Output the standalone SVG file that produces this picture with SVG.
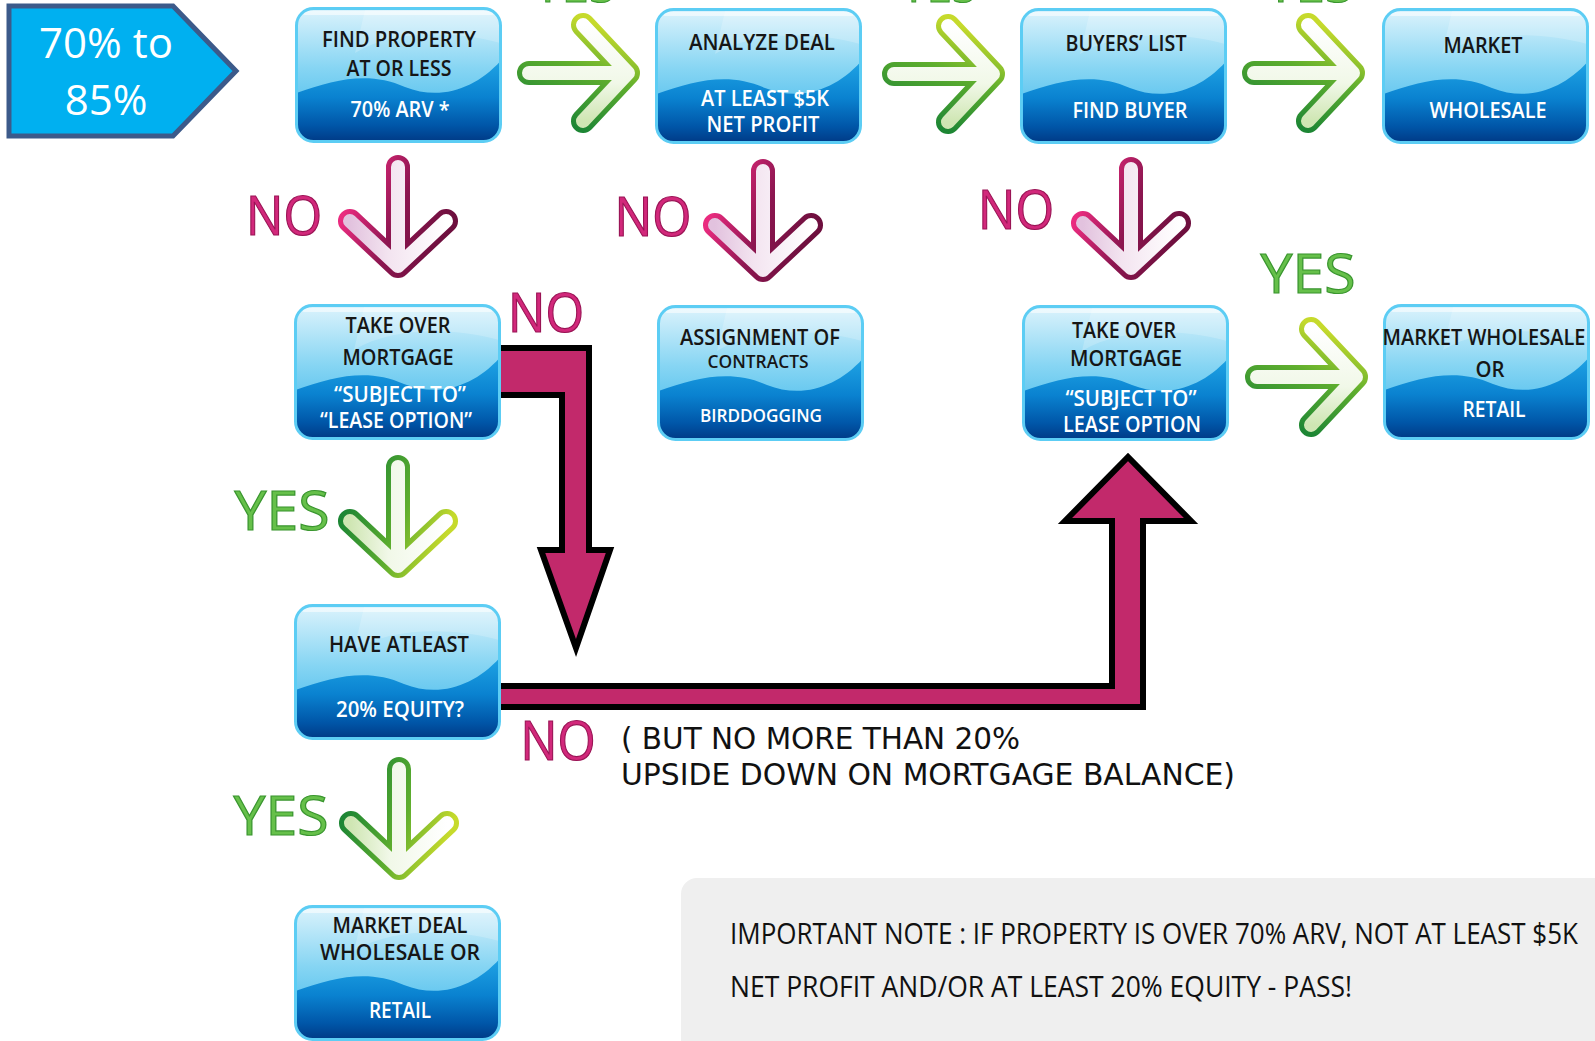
<svg xmlns="http://www.w3.org/2000/svg" xmlns:xlink="http://www.w3.org/1999/xlink" width="1595" height="1041" viewBox="0 0 1595 1041">
<style>
.bt{font-family:"Open Sans","Liberation Sans",sans-serif;font-size:21px;font-weight:600;text-anchor:middle}
.dk{fill:#161616}
.wt{fill:#ffffff}
.sm{font-size:18px}
.no{font-family:"Open Sans","Liberation Sans",sans-serif;font-size:54px;fill:#d2287b;stroke:#9a1455;stroke-width:1.2px;text-anchor:middle}
.yes{font-family:"Open Sans","Liberation Sans",sans-serif;font-size:54px;fill:#66c04a;stroke:#3a962f;stroke-width:1.2px;text-anchor:middle}
.hand{font-family:"DejaVu Sans","Liberation Sans",sans-serif;font-size:31px;fill:#111}
.note{font-family:"Open Sans","Liberation Sans",sans-serif;font-size:29px;fill:#111}
.conn{fill:#c2296b;stroke:#000;stroke-width:6;stroke-linejoin:miter}
</style>
<defs>
<linearGradient id="gTop" x1="0" y1="0" x2="0" y2="1">
<stop offset="0" stop-color="#dcf3fc"/><stop offset="0.45" stop-color="#86d5f3"/><stop offset="1" stop-color="#34b2ea"/>
</linearGradient>
<linearGradient id="gBot" x1="0" y1="0" x2="0" y2="1">
<stop offset="0" stop-color="#1fa3e4"/><stop offset="0.45" stop-color="#0a82d0"/><stop offset="0.8" stop-color="#0056a8"/><stop offset="1" stop-color="#003a86"/>
</linearGradient>
<linearGradient id="gOutG" x1="0.7" y1="0" x2="0.3" y2="1">
<stop offset="0" stop-color="#c6da2c"/><stop offset="0.45" stop-color="#5fae2e"/><stop offset="1" stop-color="#1d8634"/>
</linearGradient>
<linearGradient id="gInG" x1="0" y1="0" x2="0" y2="1">
<stop offset="0" stop-color="#ffffff"/><stop offset="0.6" stop-color="#f1f8e8"/><stop offset="1" stop-color="#cfe6b3"/>
</linearGradient>
<linearGradient id="gOutP" x1="0.7" y1="0" x2="0.3" y2="1">
<stop offset="0" stop-color="#6e0f3e"/><stop offset="0.5" stop-color="#8c1650"/><stop offset="1" stop-color="#ea2b7f"/>
</linearGradient>
<linearGradient id="gInP" x1="0" y1="0" x2="0" y2="1">
<stop offset="0" stop-color="#ffffff"/><stop offset="0.6" stop-color="#f3e4f0"/><stop offset="1" stop-color="#e2c2de"/>
</linearGradient>
<g id="box">
<rect x="1.5" y="1.5" width="204" height="133" rx="17" fill="url(#gTop)"/>
<path d="M1.5,86 C40,72 75,64 110,80 C145,94 180,82 205.5,54 L205.5,117.5 Q205.5,134.5 188.5,134.5 L18.5,134.5 Q1.5,134.5 1.5,117.5 Z" fill="url(#gBot)"/>
<path d="M60,46 C100,22 160,24 205,36 L205,20 Q205,3 188,3 L70,3 Z" fill="#ffffff" opacity="0.2"/>
<rect x="8" y="4" width="191" height="4" rx="2" fill="#ffffff" opacity="0.55"/>
<rect x="1.5" y="1.5" width="204" height="133" rx="17" fill="none" stroke="#5ccdf4" stroke-width="3"/>
</g>
<g id="arrG">
<path d="M-99,0 L0,0 M-45,-48 L0,0 L-45,48" fill="none" stroke="url(#gOutG)" stroke-width="24" stroke-linecap="round" stroke-linejoin="round"/>
<path d="M-99,0 L0,0 M-45,-48 L0,0 L-45,48" fill="none" stroke="url(#gInG)" stroke-width="14" stroke-linecap="round" stroke-linejoin="round"/>
</g>
<g id="arrP">
<path d="M-99,0 L0,0 M-45,-48 L0,0 L-45,48" fill="none" stroke="url(#gOutP)" stroke-width="24" stroke-linecap="round" stroke-linejoin="round"/>
<path d="M-99,0 L0,0 M-45,-48 L0,0 L-45,48" fill="none" stroke="url(#gInP)" stroke-width="14" stroke-linecap="round" stroke-linejoin="round"/>
</g>
</defs>
<rect width="1595" height="1041" fill="#ffffff"/>

<g id="note">
<rect x="681" y="878" width="960" height="220" rx="16" fill="#efefef"/>
<text class="note" x="730" y="944" textLength="848" lengthAdjust="spacingAndGlyphs">IMPORTANT NOTE : IF PROPERTY IS OVER 70% ARV, NOT AT LEAST $5K</text>
<text class="note" x="730" y="997" textLength="622" lengthAdjust="spacingAndGlyphs">NET PROFIT AND/OR AT LEAST 20% EQUITY - PASS!</text>
</g>

<g id="connectors">
<path class="conn" d="M495,348 L589,348 L589,550 L610,550 L576,648 L541,550 L562,550 L562,395 L495,395 Z"/>
<path class="conn" d="M495,686 L1112,686 L1112,521 L1065,521 L1128,457 L1191,521 L1143,521 L1143,707 L495,707 Z"/>
<use href="#arrG" transform="translate(628,73)"/>
<use href="#arrG" transform="translate(993,74)"/>
<use href="#arrG" transform="translate(1353,73)"/>
<use href="#arrG" transform="translate(1356,377)"/>
<use href="#arrG" transform="translate(398,566) rotate(90)"/>
<use href="#arrG" transform="translate(399,868) rotate(90)"/>
<use href="#arrP" transform="translate(398,266) rotate(90)"/>
<use href="#arrP" transform="translate(763,270) rotate(90)"/>
<use href="#arrP" transform="translate(1131,268) rotate(90)"/>
</g>

<g id="labels">
<text class="yes" x="575" y="2" textLength="82" lengthAdjust="spacingAndGlyphs">YES</text>
<text class="yes" x="939" y="2" textLength="76" lengthAdjust="spacingAndGlyphs">YES</text>
<text class="yes" x="1310" y="2" textLength="88" lengthAdjust="spacingAndGlyphs">YES</text>
<text class="no" x="284" y="235" textLength="76" lengthAdjust="spacingAndGlyphs">NO</text>
<text class="no" x="653" y="236" textLength="77" lengthAdjust="spacingAndGlyphs">NO</text>
<text class="no" x="1016" y="229" textLength="76" lengthAdjust="spacingAndGlyphs">NO</text>
<text class="no" x="546" y="332" textLength="76" lengthAdjust="spacingAndGlyphs">NO</text>
<text class="no" x="558" y="760" textLength="75" lengthAdjust="spacingAndGlyphs">NO</text>
<text class="yes" x="1308" y="293" textLength="95" lengthAdjust="spacingAndGlyphs">YES</text>
<text class="yes" x="282" y="530" textLength="95" lengthAdjust="spacingAndGlyphs">YES</text>
<text class="yes" x="281" y="835" textLength="95" lengthAdjust="spacingAndGlyphs">YES</text>
<text class="hand" x="621" y="749" textLength="399" lengthAdjust="spacingAndGlyphs">( BUT NO MORE THAN 20%</text>
<text class="hand" x="621" y="785" textLength="614" lengthAdjust="spacingAndGlyphs">UPSIDE DOWN ON MORTGAGE BALANCE)</text>
</g>

<g id="badge">
<polygon points="9,6 173,6 236,71 173,136 9,136" fill="#00b0f0" stroke="#3c5a8a" stroke-width="5" stroke-linejoin="miter"/>
<text x="106" y="58" font-family="Open Sans, Liberation Sans, sans-serif" font-size="42" fill="#ffffff" text-anchor="middle">70% to</text>
<text x="106" y="115" font-family="Open Sans, Liberation Sans, sans-serif" font-size="42" fill="#ffffff" text-anchor="middle">85%</text>
</g>

<g id="n-find">
<use href="#box" x="295" y="7"/>
<text class="bt dk" x="399" y="47" textLength="154" lengthAdjust="spacingAndGlyphs">FIND PROPERTY</text>
<text class="bt dk" x="399" y="76" textLength="105" lengthAdjust="spacingAndGlyphs">AT OR LESS</text>
<text class="bt wt" x="400" y="117" textLength="99" lengthAdjust="spacingAndGlyphs">70% ARV *</text>
</g>
<g id="n-analyze">
<use href="#box" x="655" y="8"/>
<text class="bt dk" x="762" y="50" textLength="146" lengthAdjust="spacingAndGlyphs">ANALYZE DEAL</text>
<text class="bt wt" x="765" y="106" textLength="128" lengthAdjust="spacingAndGlyphs" font-size="20">AT LEAST $5K</text>
<text class="bt wt" x="763" y="132" textLength="113" lengthAdjust="spacingAndGlyphs" font-size="20">NET PROFIT</text>
</g>
<g id="n-buyers">
<use href="#box" x="1020" y="8"/>
<text class="bt dk" x="1126" y="51" textLength="121" lengthAdjust="spacingAndGlyphs">BUYERS’ LIST</text>
<text class="bt wt" x="1130" y="118" textLength="115" lengthAdjust="spacingAndGlyphs">FIND BUYER</text>
</g>
<g id="n-market">
<use href="#box" x="1382" y="8"/>
<text class="bt dk" x="1483" y="53" textLength="79" lengthAdjust="spacingAndGlyphs">MARKET</text>
<text class="bt wt" x="1488" y="118" textLength="117" lengthAdjust="spacingAndGlyphs">WHOLESALE</text>
</g>
<g id="n-takeover1">
<use href="#box" x="294" y="304"/>
<text class="bt dk" x="398" y="333" textLength="105" lengthAdjust="spacingAndGlyphs">TAKE OVER</text>
<text class="bt dk" x="398" y="365" textLength="111" lengthAdjust="spacingAndGlyphs">MORTGAGE</text>
<text class="bt wt" x="400" y="402" textLength="132" lengthAdjust="spacingAndGlyphs" font-size="19">“SUBJECT TO”</text>
<text class="bt wt" x="396" y="428" textLength="152" lengthAdjust="spacingAndGlyphs" font-size="19">“LEASE OPTION”</text>
</g>
<g id="n-assign">
<use href="#box" x="657" y="305"/>
<text class="bt dk" x="760" y="345" textLength="160" lengthAdjust="spacingAndGlyphs">ASSIGNMENT OF</text>
<text class="bt dk sm" x="758" y="368" textLength="101" lengthAdjust="spacingAndGlyphs">CONTRACTS</text>
<text class="bt wt sm" x="761" y="422" textLength="122" lengthAdjust="spacingAndGlyphs">BIRDDOGGING</text>
</g>
<g id="n-takeover2">
<use href="#box" x="1022" y="305"/>
<text class="bt dk" x="1124" y="338" textLength="104" lengthAdjust="spacingAndGlyphs">TAKE OVER</text>
<text class="bt dk" x="1126" y="366" textLength="112" lengthAdjust="spacingAndGlyphs">MORTGAGE</text>
<text class="bt wt" x="1131" y="406" textLength="131" lengthAdjust="spacingAndGlyphs" font-size="19">“SUBJECT TO”</text>
<text class="bt wt" x="1132" y="432" textLength="138" lengthAdjust="spacingAndGlyphs" font-size="19">LEASE OPTION</text>
</g>
<g id="n-market2">
<use href="#box" x="1383" y="304"/>
<text class="bt dk" x="1484" y="345" textLength="203" lengthAdjust="spacingAndGlyphs">MARKET WHOLESALE</text>
<text class="bt dk" x="1490" y="377" textLength="29" lengthAdjust="spacingAndGlyphs">OR</text>
<text class="bt wt" x="1494" y="417" textLength="63" lengthAdjust="spacingAndGlyphs">RETAIL</text>
</g>
<g id="n-equity">
<use href="#box" x="294" y="604"/>
<text class="bt dk" x="399" y="652" textLength="140" lengthAdjust="spacingAndGlyphs">HAVE ATLEAST</text>
<text class="bt wt" x="400" y="717" textLength="128" lengthAdjust="spacingAndGlyphs">20% EQUITY?</text>
</g>
<g id="n-marketdeal">
<use href="#box" x="294" y="905"/>
<text class="bt dk" x="400" y="933" textLength="135" lengthAdjust="spacingAndGlyphs">MARKET DEAL</text>
<text class="bt dk" x="400" y="960" textLength="160" lengthAdjust="spacingAndGlyphs">WHOLESALE  OR</text>
<text class="bt wt" x="400" y="1018" textLength="62" lengthAdjust="spacingAndGlyphs">RETAIL</text>
</g>
</svg>
